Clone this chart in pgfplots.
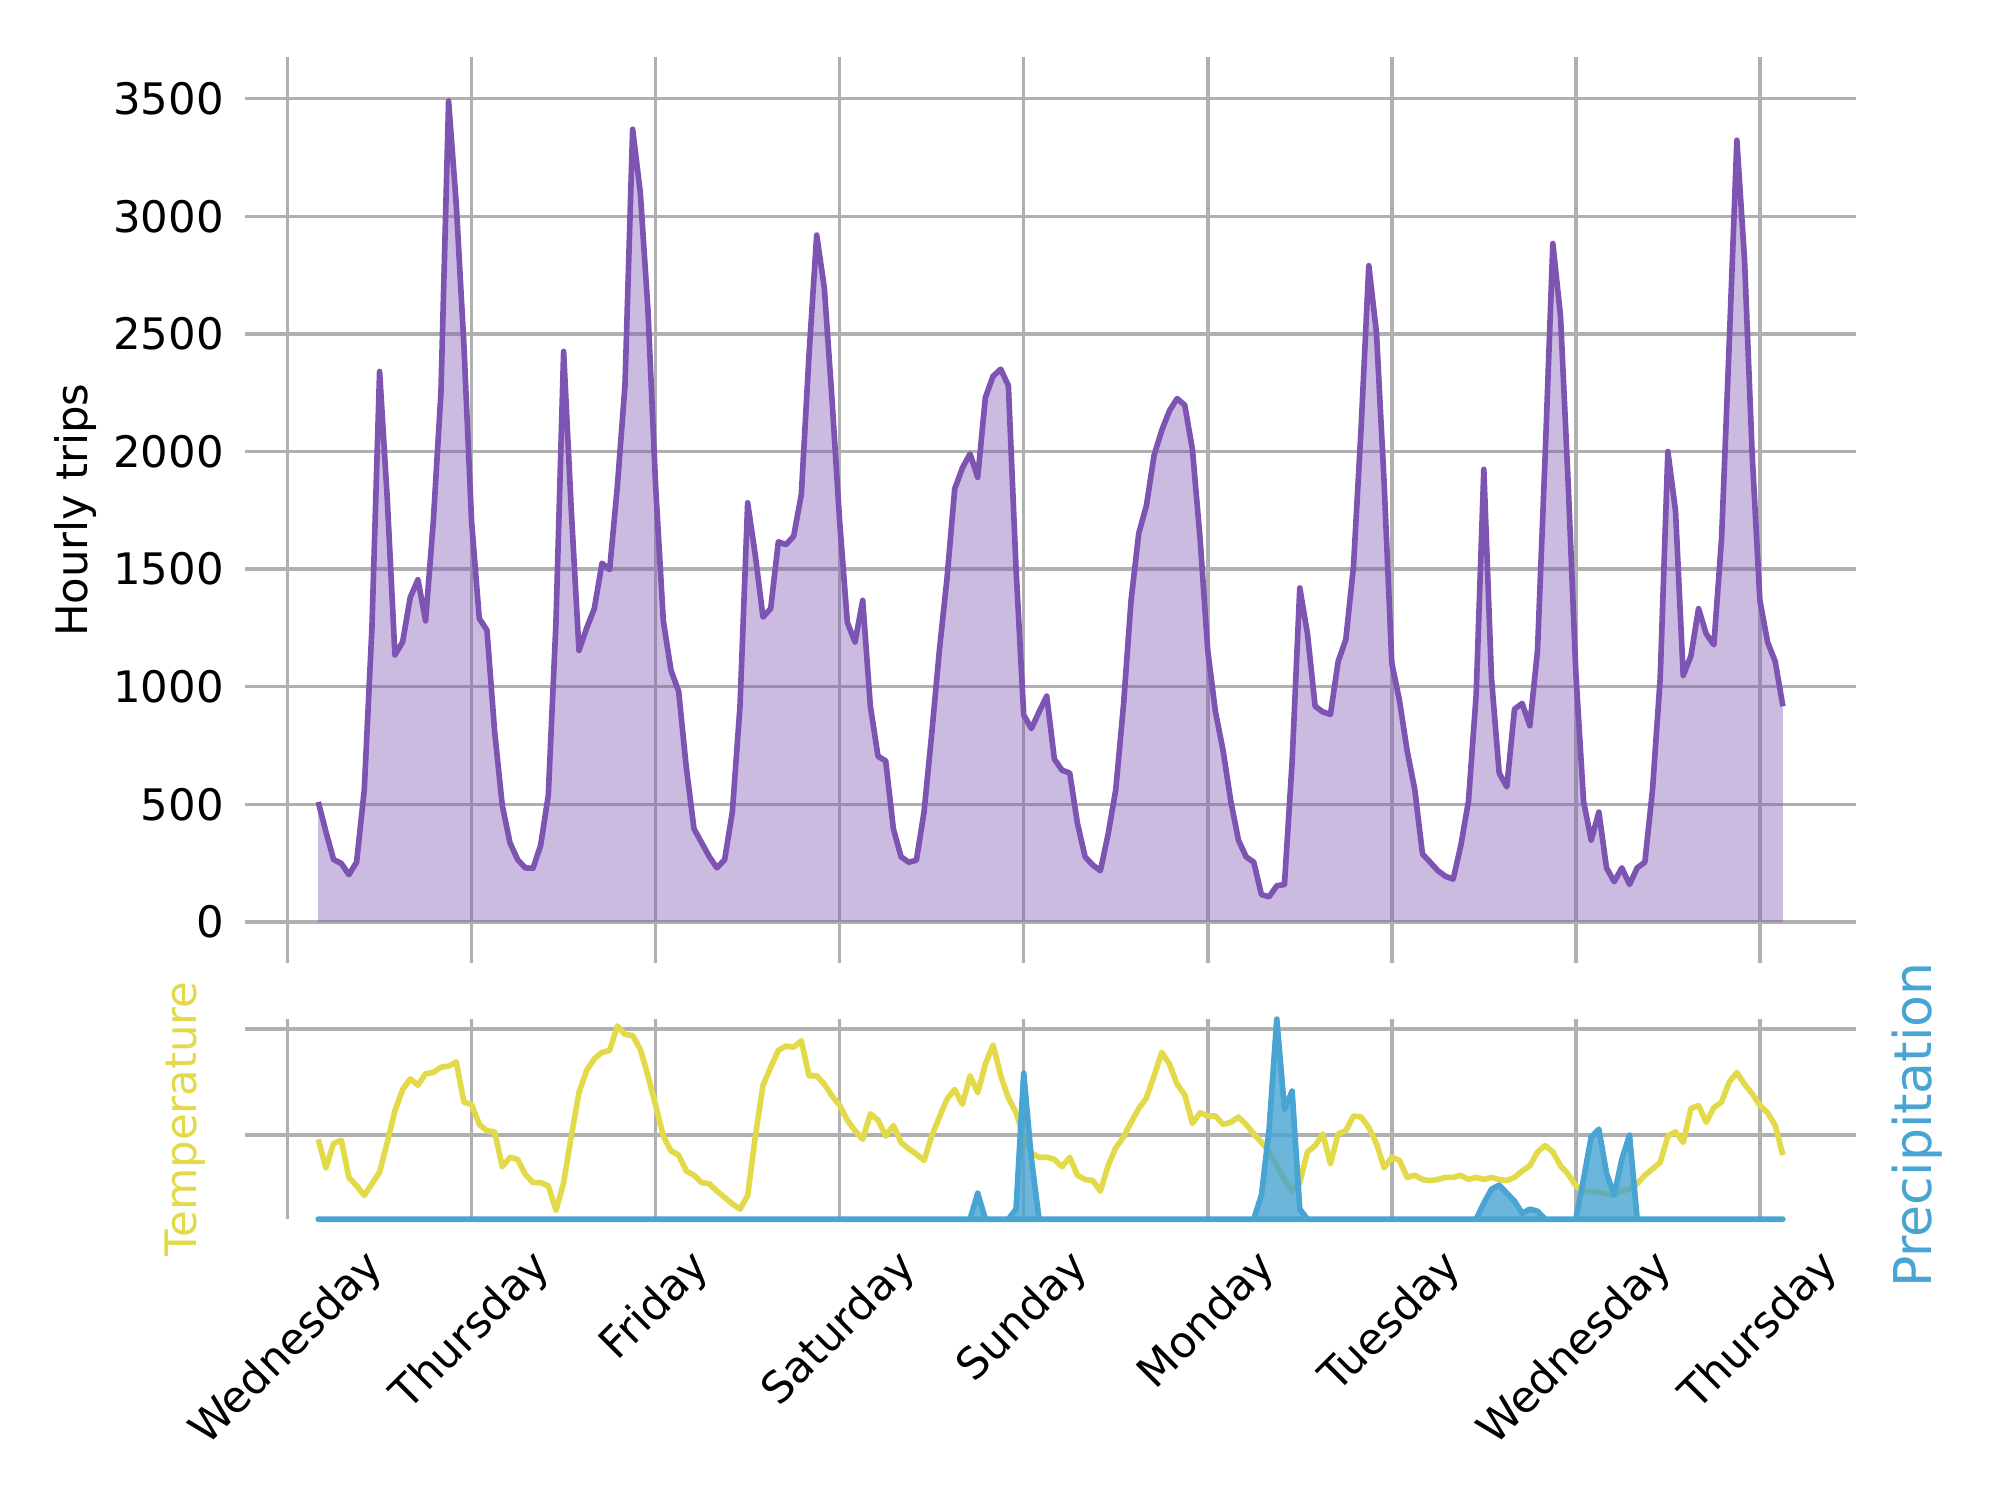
\documentclass[border=0pt]{standalone}
\usepackage{fontspec}
\setmainfont{DejaVu Sans}
\usepackage{graphicx}
\usepackage{pgfplots}
\usepackage{pgfplotstable}
\pgfplotsset{compat=1.18}
\definecolor{trip}{RGB}{125,84,178}
\definecolor{temp}{RGB}{226,218,72}
\definecolor{rain}{RGB}{72,164,210}
\definecolor{gridc}{RGB}{176,176,176}
\pgfplotstableread{
h trips temp rain
4 510 9.6 0
5 384 6.9 0
6 265 9.2 0
7 249 9.5 0
8 201 6.0 0
9 254 5.2 0
10 560 4.3 0
11 1250 5.4 0
12 2340 6.5 0
13 1800 9.3 0
14 1135 12.3 0
15 1190 14.3 0
16 1380 15.3 0
17 1455 14.7 0
18 1280 15.8 0
19 1700 15.9 0
20 2250 16.4 0
21 3490 16.5 0
22 3050 16.9 0
23 2450 13.1 0
24 1700 12.9 0
25 1290 11.0 0
26 1240 10.4 0
27 810 10.3 0
28 495 7.0 0
29 337 7.9 0
30 265 7.7 0
31 230 6.3 0
32 228 5.5 0
33 325 5.5 0
34 538 5.2 0
35 1273 2.9 0
36 2425 5.5 0
37 1750 9.9 0
38 1154 14.0 0
39 1249 16.1 0
40 1332 17.2 0
41 1525 17.8 0
42 1498 18.0 0
43 1850 20.3 0
44 2280 19.5 0
45 3370 19.4 0
46 3100 18.1 0
47 2600 15.6 0
48 1850 12.8 0
49 1280 9.9 0
50 1070 8.5 0
51 980 8.1 0
52 656 6.6 0
53 396 6.2 0
54 337 5.5 0
55 277 5.4 0
56 230 4.7 0
57 265 4.1 0
58 467 3.5 0
59 917 3.0 0
60 1782 4.3 0
61 1557 9.9 0
62 1296 14.7 0
63 1332 16.4 0
64 1616 18.0 0
65 1604 18.4 0
66 1640 18.3 0
67 1818 18.9 0
68 2410 15.6 0
69 2920 15.6 0
70 2695 14.8 0
71 2220 13.7 0
72 1700 12.8 0
73 1273 11.4 0
74 1190 10.4 0
75 1367 9.6 0
76 917 12.0 0
77 704 11.4 0
78 685 9.9 0
79 396 10.9 0
80 277 9.3 0
81 254 8.7 0
82 262 8.2 0
83 467 7.6 0
84 799 9.9 0
85 1154 11.7 0
86 1462 13.4 0
87 1841 14.3 0
88 1930 12.9 0
89 1990 15.6 0
90 1890 14.0 0.13
91 2230 16.7 0
92 2320 18.5 0
93 2350 15.6 0
94 2280 13.5 0
95 1500 12.1 0.05
96 880 9.8 0.73
97 822 8.3 0.3
98 893 7.9 0
99 960 7.9 0
100 692 7.7 0
101 645 7.0 0
102 633 7.9 0
103 420 6.2 0
104 277 5.8 0
105 242 5.7 0
106 218 4.7 0
107 372 7.1 0
108 562 8.8 0
109 917 9.8 0
110 1367 11.2 0
111 1652 12.5 0
112 1770 13.5 0
113 1984 15.6 0
114 2090 17.8 0
115 2173 16.7 0
116 2225 14.8 0
117 2197 13.8 0
118 2008 11.1 0
119 1628 12.1 0
120 1154 11.8 0
121 893 11.8 0
122 728 11.0 0
123 514 11.2 0
124 348 11.7 0
125 277 11.0 0
126 254 10.1 0
127 116 9.3 0.12
128 107 8.4 0.45
129 154 7.1 1.0
130 159 5.8 0.55
131 680 4.7 0.64
132 1420 5.5 0.05
133 1225 8.4 0
134 917 9.0 0
135 893 10.1 0
136 882 7.3 0
137 1107 10.1 0
138 1200 10.4 0
139 1510 11.8 0
140 2102 11.7 0
141 2790 10.7 0
142 2505 9.2 0
143 1865 6.9 0
144 1100 7.9 0
145 941 7.6 0
146 728 6.0 0
147 562 6.2 0
148 289 5.8 0
149 254 5.7 0
150 218 5.8 0
151 194 6.0 0
152 182 6.0 0
153 325 6.2 0
154 514 5.8 0
155 965 6.0 0
156 1924 5.8 0.08
157 1036 6.0 0.15
158 633 5.8 0.17
159 574 5.7 0.13
160 905 6.0 0.09
161 929 6.6 0.03
162 834 7.1 0.05
163 1154 8.4 0.04
164 1984 9.0 0
165 2884 8.4 0
166 2576 7.1 0
167 1865 6.3 0
168 1059 5.2 0
169 514 4.6 0.2
170 348 4.7 0.41
171 467 4.6 0.45
172 230 4.4 0.23
173 171 4.4 0.12
174 230 4.7 0.3
175 159 4.9 0.42
176 230 5.4 0
177 254 6.2 0
178 562 6.8 0
179 1036 7.4 0
180 2000 9.9 0
181 1747 10.3 0
182 1048 9.3 0
183 1130 12.5 0
184 1332 12.8 0
185 1225 11.2 0
186 1178 12.6 0
187 1628 13.1 0
188 2458 15.0 0
189 3323 15.9 0
190 2813 14.8 0
191 1984 13.9 0
192 1367 12.8 0
193 1190 12.1 0
194 1107 10.9 0
195 917 8.1 0
}\data
\begin{document}
\begin{tikzpicture}
\path[use as bounding box] (0,0) rectangle (460.8pt,345.6pt);
% top panel
\begin{axis}[
  at={(56.45pt,123.7pt)}, anchor=south west,
  width=371.2pt, height=208.65pt, scale only axis,
  xmin=-5.55, xmax=204.55, ymin=-175, ymax=3675,
  axis line style={draw=none}, major tick length=0pt,
  xtick={0,24,...,192}, xticklabel=\empty,
  ytick={0,500,...,3500}, yticklabels={0,500,1000,1500,2000,2500,3000,3500},
  grid=major, grid style={gridc, line width=0.8pt},
  yticklabel style={anchor=east, inner sep=0pt, xshift=-4.7pt},
  ylabel={Hourly trips},
  ylabel style={at={(axis description cs:-0.1049,0.5)}, anchor=center, inner sep=0pt},
]
\addplot[fill=trip, fill opacity=0.4, draw=none] table[x=h,y=trips]{\data} \closedcycle;
\addplot[trip, line width=1.3pt, line join=round] table[x=h,y=trips]{\data};
\end{axis}
% bottom panel: temperature
\begin{axis}[
  at={(56.45pt,64.7pt)}, anchor=south west,
  width=371.2pt, height=46.1pt, scale only axis,
  xmin=-5.55, xmax=204.55, ymin=2.05, ymax=20.95,
  axis line style={draw=none}, major tick length=0pt,
  xtick={0,24,...,192},
  xticklabels={\rotatebox{45}{Wednesday},\rotatebox{45}{Thursday},\rotatebox{45}{Friday},\rotatebox{45}{Saturday},\rotatebox{45}{Sunday},\rotatebox{45}{Monday},\rotatebox{45}{Tuesday},\rotatebox{45}{Wednesday},\rotatebox{45}{Thursday}},
  xticklabel style={anchor=north, inner sep=0pt, yshift=-5.9pt},
  ytick={10,20}, yticklabel=\empty,
  grid=major, grid style={gridc, line width=0.8pt},
  ylabel={Temperature},
  ylabel style={temp, at={(axis description cs:-0.0372,0.5)}, anchor=center, inner sep=0pt},
]
\addplot[temp, line width=1.3pt, line join=round] table[x=h,y=temp]{\data};
\end{axis}
% bottom panel: precipitation (twin axis)
\begin{axis}[
  at={(56.45pt,64.7pt)}, anchor=south west,
  width=371.2pt, height=46.1pt, scale only axis,
  xmin=-5.55, xmax=204.55, ymin=0, ymax=1,
  axis line style={draw=none}, major tick length=0pt,
  xtick=\empty, ytick=\empty, clip=false,
  ylabel={\fontsize{12}{14}\selectfont Precipitation},
  ylabel style={rain, at={(axis description cs:1.0379,0.47)}, anchor=center, inner sep=0pt},
]
\addplot[fill=rain, fill opacity=0.8, draw=rain, line width=1.3pt, line join=round] table[x=h,y=rain]{\data} \closedcycle;
\end{axis}
\end{tikzpicture}
\end{document}
